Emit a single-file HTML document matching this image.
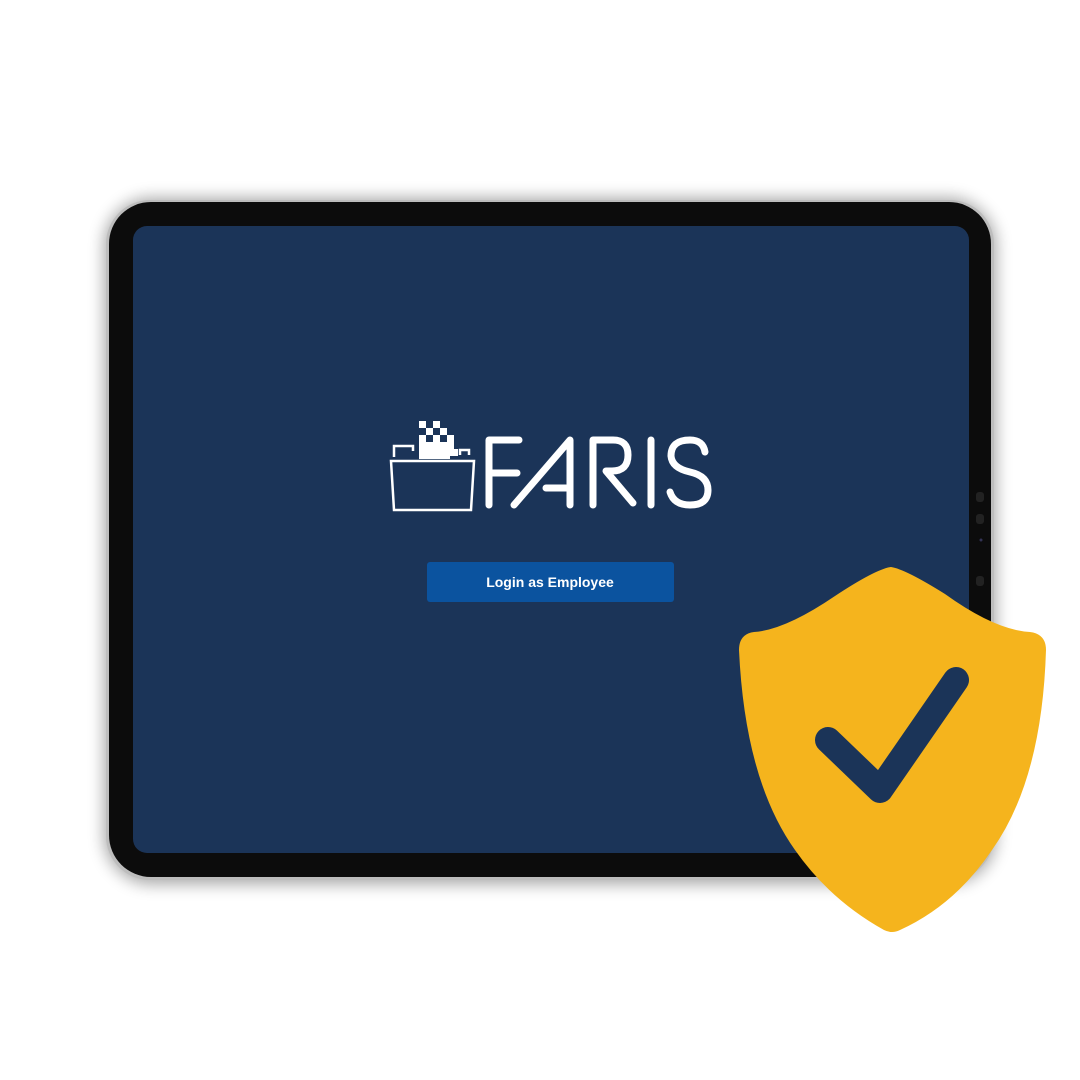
<!DOCTYPE html>
<html><head><style>
html,body{margin:0;padding:0;width:1080px;height:1080px;background:#fff;overflow:hidden}
</style></head><body>
<svg width="1080" height="1080" viewBox="0 0 1080 1080" xmlns="http://www.w3.org/2000/svg">
<defs>
<filter id="sh" x="-10%" y="-10%" width="120%" height="120%"><feGaussianBlur stdDeviation="8"/></filter>
</defs>
<rect x="104" y="198" width="892" height="686" rx="48" fill="#000" opacity="0.35" filter="url(#sh)"/>
<rect x="106" y="200" width="888" height="680" rx="44" fill="#bdbdbd"/>
<rect x="109" y="202" width="882" height="675" rx="42" fill="#0c0c0c"/>
<rect x="133" y="226" width="836" height="627" rx="14" fill="#1b3458"/>
<rect x="976" y="492" width="8" height="10" rx="3" fill="#222"/>
<rect x="976" y="514" width="8" height="10" rx="3" fill="#222"/>
<rect x="976" y="576" width="8" height="10" rx="3" fill="#222"/>
<circle cx="981" cy="540" r="1.5" fill="#335"/>
<!-- logo folder -->
<g fill="#fff">
<rect x="419" y="421" width="7" height="7"/><rect x="433" y="421" width="7" height="7"/>
<rect x="426" y="428" width="7" height="7"/><rect x="440" y="428" width="7" height="7"/>
<rect x="419" y="435" width="7" height="7"/><rect x="433" y="435" width="7" height="7"/><rect x="447" y="435" width="7" height="7"/>
<rect x="419" y="442" width="35" height="7"/><rect x="419" y="449" width="31" height="10"/>
<rect x="450" y="449" width="8" height="7"/>
</g>
<g fill="none" stroke="#fff" stroke-width="2.5">
<path d="M394 457 V446 H413 V451"/>
<path d="M460 455 V450 H469 V455"/>
<path d="M391 461 H474 L471 510 H394 Z"/>
</g>
<g fill="none" stroke="#fff" stroke-width="7" stroke-linecap="round" stroke-linejoin="round">
<path d="M519 440 H489 V505 M489 473 H517"/>
<path d="M514 505 L570 440 V505 M546 488 H566"/>
<path d="M593 505 V440 H613 Q628 440 628 455 Q628 471 612 471 H606 L633 503"/>
<path d="M651 440 V505"/>
<path d="M705 452 Q703 440 690 440 Q671 440 671 456 Q672 468 690 472 Q708 476 708 490 Q708 505 690 505 Q674 505 670 492"/>
</g>
<rect x="427" y="562" width="247" height="40" rx="3" fill="#0b539f"/>
<text x="550" y="587" font-family="Liberation Sans, sans-serif" font-weight="bold" font-size="14" fill="#fff" text-anchor="middle">Login as Employee</text>
<!-- shield -->
<path d="M891 567 Q905 569 945 594 Q995 630 1030 632 Q1046 634 1046 650 Q1042 780 992 850 Q955 905 900 930 Q892 934 884 930 Q830 900 795 850 Q745 780 739 650 Q739 634 754 632 Q785 630 835 596 Q876 569 891 567 Z" fill="#f5b41d"/>
<path d="M828 740 L880 790 L956 680" fill="none" stroke="#1b3458" stroke-width="26" stroke-linecap="round" stroke-linejoin="round"/>
</svg>
</body></html>
